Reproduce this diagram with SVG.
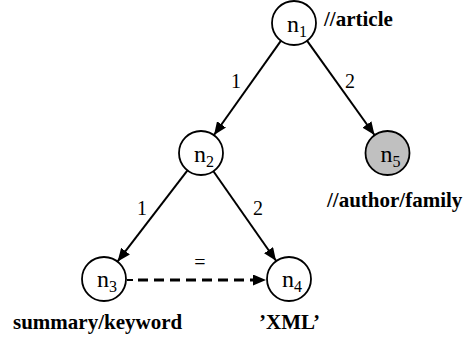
<svg xmlns="http://www.w3.org/2000/svg" width="463" height="341" viewBox="0 0 463 341">
<style>
.n{fill:#fff;stroke:#000;stroke-width:1.8}
.g{fill:#c0c0c0}
text{font-family:'Liberation Serif','Times New Roman',serif;fill:#000}
.t{font-size:24px}
.s{font-size:16px}
.b{font-weight:bold;font-size:21px}
.e{font-size:20px}
.c{stroke:#000;stroke-width:2;fill:none}
.d{stroke:#000;stroke-width:3;fill:none;stroke-dasharray:10,6}
</style>
<defs>
<marker id="h" viewBox="0 0 13 11" refX="13" refY="5.5" markerWidth="13" markerHeight="11" orient="auto" markerUnits="userSpaceOnUse">
<path d="M0,0 L13,5.5 L0,11 z" fill="#000"/>
</marker>
</defs>
<g id="connectors">
<line class="c" x1="281.2" y1="40.4" x2="214" y2="135" marker-end="url(#h)"/>
<line class="c" x1="306.8" y1="40.4" x2="374.5" y2="135" marker-end="url(#h)"/>
<line class="c" x1="187.3" y1="170.7" x2="117.6" y2="261.4" marker-end="url(#h)"/>
<line class="c" x1="213.4" y1="171.3" x2="276" y2="260.8" marker-end="url(#h)"/>
<line class="c" x1="127" y1="280" x2="133" y2="280"/>
<line class="d" x1="138" y1="280" x2="266" y2="280" marker-end="url(#h)"/>
<text class="e" x="236" y="88" text-anchor="middle">1</text>
<text class="e" x="350" y="88" text-anchor="middle">2</text>
<text class="e" x="142" y="215" text-anchor="middle">1</text>
<text class="e" x="258" y="215" text-anchor="middle">2</text>
<text class="e" x="200" y="269" text-anchor="middle">=</text>
</g>
<g id="n1">
<circle class="n" cx="294" cy="23" r="22"/>
<text class="t" x="287" y="32">n<tspan class="s" dy="5">1</tspan></text>
<text class="b" x="324" y="26">//article</text>
</g>
<g id="n2">
<circle class="n" cx="201" cy="153" r="22"/>
<text class="t" x="194" y="162">n<tspan class="s" dy="5">2</tspan></text>
</g>
<g id="n3">
<circle class="n" cx="104" cy="279" r="22"/>
<text class="t" x="97" y="287">n<tspan class="s" dy="5">3</tspan></text>
<text class="b" x="13" y="329">summary/keyword</text>
</g>
<g id="n4">
<circle class="n" cx="289" cy="279" r="22"/>
<text class="t" x="282" y="287">n<tspan class="s" dy="5">4</tspan></text>
<text class="b" x="259" y="329">’XML’</text>
</g>
<g id="n5">
<circle class="n g" cx="387.5" cy="153" r="22"/>
<text class="t" x="380.5" y="162">n<tspan class="s" dy="5">5</tspan></text>
<text class="b" x="327" y="207">//author/family</text>
</g>
</svg>
